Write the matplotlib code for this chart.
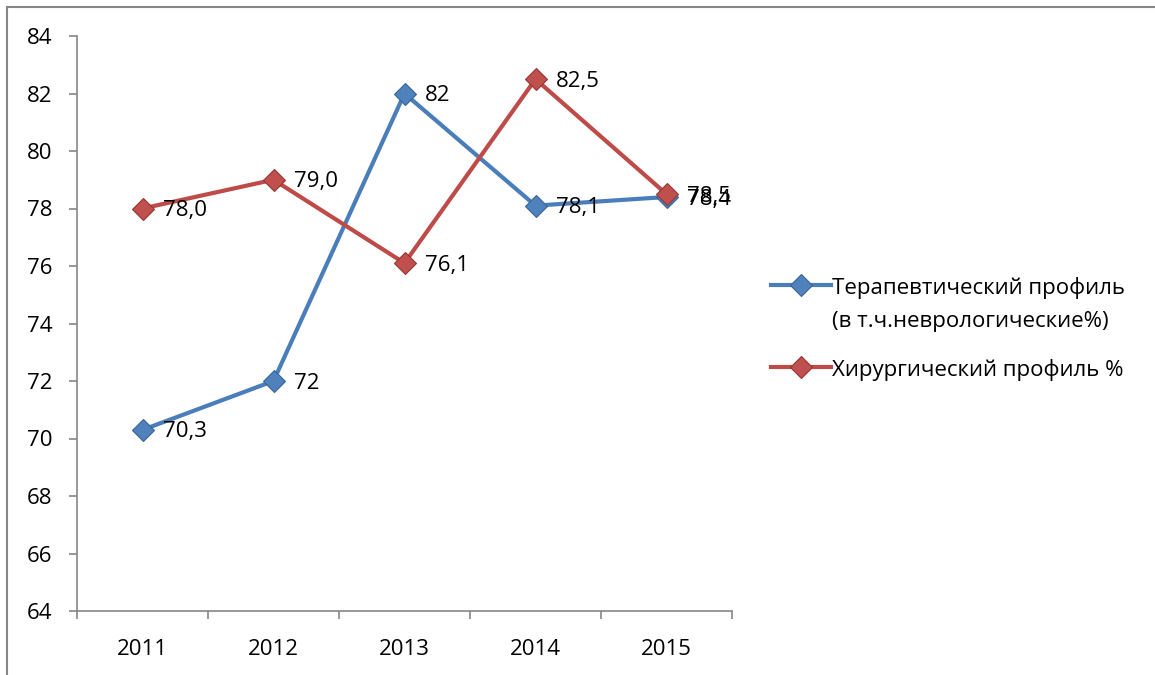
import matplotlib.pyplot as plt
from matplotlib.patches import Rectangle

plt.rcParams['font.family'] = ['Open Sans', 'DejaVu Sans']

years = ["2011", "2012", "2013", "2014", "2015"]
therapy = [70.3, 72, 82, 78.1, 78.4]
surgery = [78.0, 79.0, 76.1, 82.5, 78.5]
therapy_labels = ["70,3", "72", "82", "78,1", "78,4"]
surgery_labels = ["78,0", "79,0", "76,1", "82,5", "78,5"]
therapy_name = "Терапевтический профиль\n(в т.ч.неврологические%)"
surgery_name = "Хирургический профиль %"

W, H = 1155, 675
fs = 16
fig = plt.figure(figsize=(W / 100, H / 100), dpi=100)
ax = fig.add_axes([77 / W, 1 - 611 / H, (732 - 77) / W, (611 - 36) / H])

# outer chart border (right/bottom edges fall outside the image)
fig.patches.append(Rectangle((7 / W, -0.1), 1.2, 1 - 7 / H + 0.1,
                             transform=fig.transFigure, fill=False,
                             edgecolor='#868686', linewidth=1.5))

x = list(range(len(years)))
blue, red = '#4a7ebb', '#be4b48'
ax.plot(x, therapy, color=blue, linewidth=3, marker='D', markersize=11,
        markerfacecolor='#4f81bd', markeredgecolor='#3a6595', markeredgewidth=0.8,
        label=therapy_name, zorder=3)
ax.plot(x, surgery, color=red, linewidth=3, marker='D', markersize=11,
        markerfacecolor='#c0504d', markeredgecolor='#943634', markeredgewidth=0.8,
        label=surgery_name, zorder=3)

for xi, v, t in zip(x, therapy, therapy_labels):
    ax.annotate(t, (xi, v), xytext=(15, -1.5), textcoords='offset points',
                ha='left', va='center', fontsize=fs, zorder=4)
for xi, v, t in zip(x, surgery, surgery_labels):
    ax.annotate(t, (xi, v), xytext=(15, -1.5), textcoords='offset points',
                ha='left', va='center', fontsize=fs, zorder=4)

ax.set_xlim(-0.5, len(years) - 0.5)
ax.set_ylim(64, 84)
ax.set_yticks(range(64, 85, 2))
ax.set_xticks(x)
ax.set_xticklabels(years)
ax.set_xticks([i - 0.5 for i in range(len(years) + 1)], minor=True)
ax.tick_params(axis='x', which='major', length=0, pad=20, labelsize=fs)
ax.tick_params(axis='x', which='minor', length=6, color='#868686', width=1.2)
ax.tick_params(axis='y', length=6, color='#868686', width=1.2, pad=12, labelsize=fs)

for s in ['top', 'right']:
    ax.spines[s].set_visible(False)
for s in ['left', 'bottom']:
    ax.spines[s].set_color('#868686')
    ax.spines[s].set_linewidth(1.2)

leg = fig.legend(loc='upper left', bbox_to_anchor=(751 / W, 1 - 257 / H),
                 frameon=False, fontsize=fs, handlelength=2.7,
                 handletextpad=0.05, labelspacing=1.23)
for t in leg.get_texts():
    t.set_linespacing(1.75)
# put the legend line next to the first text line, as in the original
for col in leg._legend_handle_box.get_children():
    for item in col.get_children():
        item.align = 'top'

fig.savefig('out.png', dpi=100)
